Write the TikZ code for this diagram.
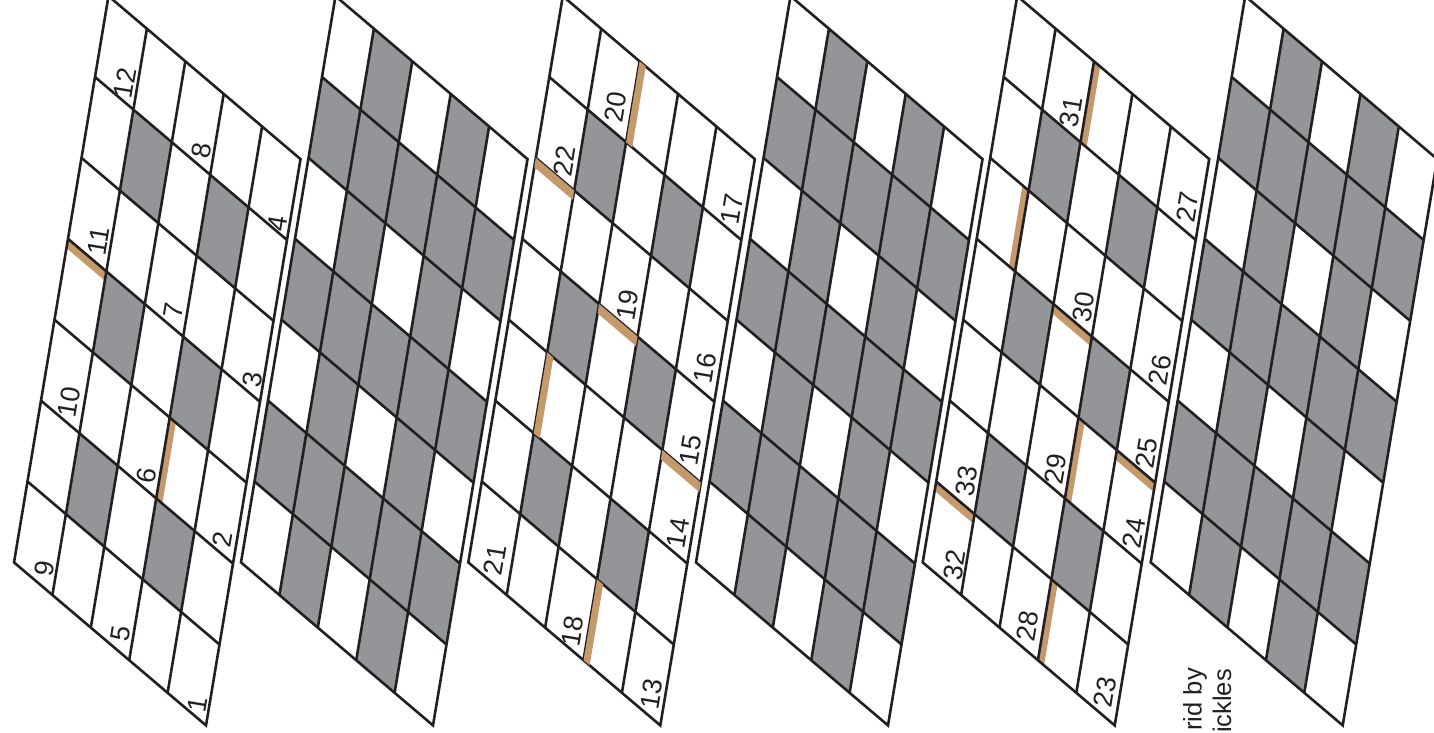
\documentclass[tikz,border=0pt]{standalone}
\usepackage{fontspec}
\setmainfont{Liberation Sans}
\usepackage{xcolor}
\definecolor{inkblack}{HTML}{231F20}
\definecolor{cellgrey}{HTML}{939598}
\definecolor{striptan}{HTML}{C49A6C}
\tikzset{
  sheet/.style={shift={(#1,562.4)},x={(38.4pt,-32.6pt)},y={(13.5pt,80.9pt)}},
  gridline/.style={draw=inkblack,line width=2.6pt},
  greycell/.style={fill=cellgrey},
  tanstrip/.style={fill=striptan},
  numlabel/.style={inner sep=0pt,text=inkblack,rotate=80.5,font=\fontsize{27}{27}\selectfont},
  creditline/.style={inner sep=0pt,text=inkblack,rotate=90,anchor=east,font=\fontsize{25.5}{26}\selectfont},
}
\newcommand{\cellfill}[2]{\fill[greycell] (#1,#2) -- ++(1,0) -- ++(0,1) -- ++(-1,0) -- cycle;}
\newcommand{\hstrip}[2]{\fill[tanstrip] (#1,#2) -- ++(1,0) -- ++(0,-0.115) -- ++(-1,0) -- cycle;}
\newcommand{\vstrip}[2]{\fill[tanstrip] (#1,#2) -- ++(0,1) -- ++(0.16,0) -- ++(0,-1) -- cycle;}
\newcommand{\gridlines}{
  \foreach \r in {1,...,6} \draw[gridline] (0,\r) -- (5,\r);
  \foreach \c in {1,...,4} \draw[gridline] (\c,0) -- (\c,7);
  \draw[gridline] (0,0) -- (5,0) -- (5,7) -- (0,7) -- cycle;
}

\begin{document}
\begin{tikzpicture}[x=1pt,y=-1pt]

\useasboundingbox (0,0) rectangle (1434,733);
\clip (0,0) rectangle (1434,733);

\foreach \xo in {241,696,1150.7} {
  \begin{scope}[sheet=\xo]
    \foreach \r in {1,3,5} \foreach \c in {0,...,4} {\cellfill{\c}{\r}}
    \foreach \r in {0,2,4,6} \foreach \c in {1,3} {\cellfill{\c}{\r}}
    \gridlines
  \end{scope}
}

\foreach \xo in {14,468.3,922.7} {
  \begin{scope}[sheet=\xo]
    \foreach \r in {1,3,5} \foreach \c in {1,3} {\cellfill{\c}{\r}}
  \end{scope}
}

\begin{scope}[sheet=14]
  \hstrip{0}{4}
  \vstrip{3}{2}
  \gridlines
\end{scope}

\begin{scope}[sheet=468.3]
  \gridlines
  \vstrip{2}{6}
  \hstrip{0}{5}
  \hstrip{2}{4}
  \vstrip{1}{2}
  \hstrip{4}{3}
  \vstrip{3}{0}
\end{scope}

\begin{scope}[sheet=922.7]
  \vstrip{2}{6}
  \vstrip{0.84}{4}
  \hstrip{2}{4}
  \vstrip{3}{2}
  \hstrip{4}{3}
  \hstrip{0}{1}
  \vstrip{3}{0}
  \gridlines
\end{scope}

\node[numlabel] (n1) at (197.3,705) {1};
\node[numlabel] (n2) at (222.7,539.3) {2};
\node[numlabel] (n3) at (252.3,380) {3};
\node[numlabel] (n4) at (277.3,224) {4};
\node[numlabel] (n5) at (120.7,633.3) {5};
\node[numlabel] (n6) at (146.7,475.7) {6};
\node[numlabel] (n7) at (173.3,310.7) {7};
\node[numlabel] (n8) at (201.7,150.7) {8};
\node[numlabel] (n9) at (44.3,569) {9};
\node[numlabel] (n10) at (69,401.7) {10};
\node[numlabel] (n11) at (98.3,240.7) {11};
\node[numlabel] (n12) at (125,83) {12};
\node[numlabel] (n13) at (651.7,694) {13};
\node[numlabel] (n14) at (678.3,533.3) {14};
\node[numlabel] (n15) at (690.7,450) {15};
\node[numlabel] (n16) at (705,368) {16};
\node[numlabel] (n17) at (732.3,209) {17};
\node[numlabel] (n18) at (572.7,630.7) {18};
\node[numlabel] (n19) at (627.7,305) {19};
\node[numlabel] (n20) at (615.7,106.7) {20};
\node[numlabel] (n21) at (495,560) {21};
\node[numlabel] (n22) at (564.3,160.7) {22};
\node[numlabel] (n23) at (1105,691.7) {23};
\node[numlabel] (n24) at (1134,532.7) {24};
\node[numlabel] (n25) at (1146.7,452.7) {25};
\node[numlabel] (n26) at (1160,370) {26};
\node[numlabel] (n27) at (1187.3,207.3) {27};
\node[numlabel] (n28) at (1027.7,625.7) {28};
\node[numlabel] (n29) at (1055.7,469) {29};
\node[numlabel] (n30) at (1083.3,306.7) {30};
\node[numlabel] (n31) at (1071,112.3) {31};
\node[numlabel] (n32) at (954.3,565) {32};
\node[numlabel] (n33) at (966.7,480.7) {33};

\node[creditline] (credit1) at (1195,668) {rid by};
\node[creditline] (credit2) at (1222,669) {ickles};

\end{tikzpicture}
\end{document}
